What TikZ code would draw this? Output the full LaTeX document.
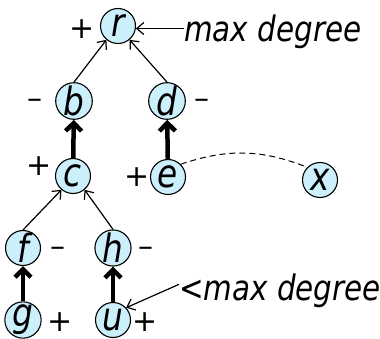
\documentclass[tikz,border=0pt]{standalone}
\usepackage{fontspec}
\setmainfont{DejaVu Sans}[FakeStretch=0.84]
\newfontfamily\signfont{DejaVu Sans}
\usetikzlibrary{arrows.meta, positioning}

\begin{document}
\fontsize{35}{38}\selectfont
\begin{tikzpicture}[x=1pt, y=-1pt,
    vtx/.style={circle, draw, line width=1.1pt, fill=cyan!20, minimum size=35pt, inner sep=0pt,
        font=\fontsize{39}{40}\selectfont\itshape},
    sign/.style={inner sep=0pt, font=\signfont\fontsize{30}{32}\selectfont},
    tree/.style={line width=1.2pt, -{Straight Barb[length=7pt, width=12pt]}},
    heavy/.style={line width=4.5pt, -{Straight Barb[length=8pt, width=16pt]}},
    note/.style={line width=1.2pt, -{Straight Barb[length=7pt, width=12pt]}}]
    \useasboundingbox (0,0) rectangle (380,339);

    % 顶点
    \node[vtx] (r) at (118,26) {r};
    \node[vtx] (b) at (74,101) {b};
    \node[vtx] (d) at (167,101) {d};
    \node[vtx] (c) at (73,176) {c};
    \node[vtx] (e) at (168,177) {e};
    \node[vtx] (x) at (320,180) {x};
    \node[vtx] (f) at (23,248) {f};
    \node[vtx] (h) at (113,248) {h};
    \node[vtx] (g) at (23,320) {g};
    \node[vtx] (u) at (113,320) {u};

    % 符号
    \node[sign, left=5.5pt of r, yshift=-3pt] (sr) {+};
    \node[sign, left=12pt of b, yshift=-3pt] (sb) {–};
    \node[sign, right=8pt of d, yshift=-3pt] (sd) {–};
    \node[sign, left=3pt of c, yshift=10pt] (sc) {+};
    \node[sign, left=0pt of e] (se) {+};
    \node[sign, right=9pt of f, yshift=-4pt] (sf) {–};
    \node[sign, right=7pt of h, yshift=-4pt] (sh) {–};
    \node[sign, right=6pt of g, yshift=-2pt] (sg) {+};
    \node[sign, right=1pt of u, yshift=-2pt] (su) {+};

    % 树边
    \draw[tree] (b.north) -- (r.-130);
    \draw[tree] (d.north) -- (r.-50);
    \draw[tree] (f.north) -- (c.-130);
    \draw[tree] (h.north) -- (c.-50);
    \draw[heavy] (c) -- (b);
    \draw[heavy] (e) -- (d);
    \draw[heavy] (g) -- (f);
    \draw[heavy] (u) -- (h);
    \draw[line width=1pt, dash pattern=on 6pt off 4pt] (e.45) to[bend left=20] (x.135);

    % 说明
    \node[inner sep=0pt, anchor=base west, font=\itshape] (top) at (184,42) {max degree};
    \node[inner sep=0pt, anchor=base west, font=\itshape] (low) at (179,300) {<max degree};
    \draw[note] (top.west |- r.-8) -- (r.-8);
    \draw[note] ([yshift=6pt]low.west) -- (u.43);
\end{tikzpicture}
\end{document}
